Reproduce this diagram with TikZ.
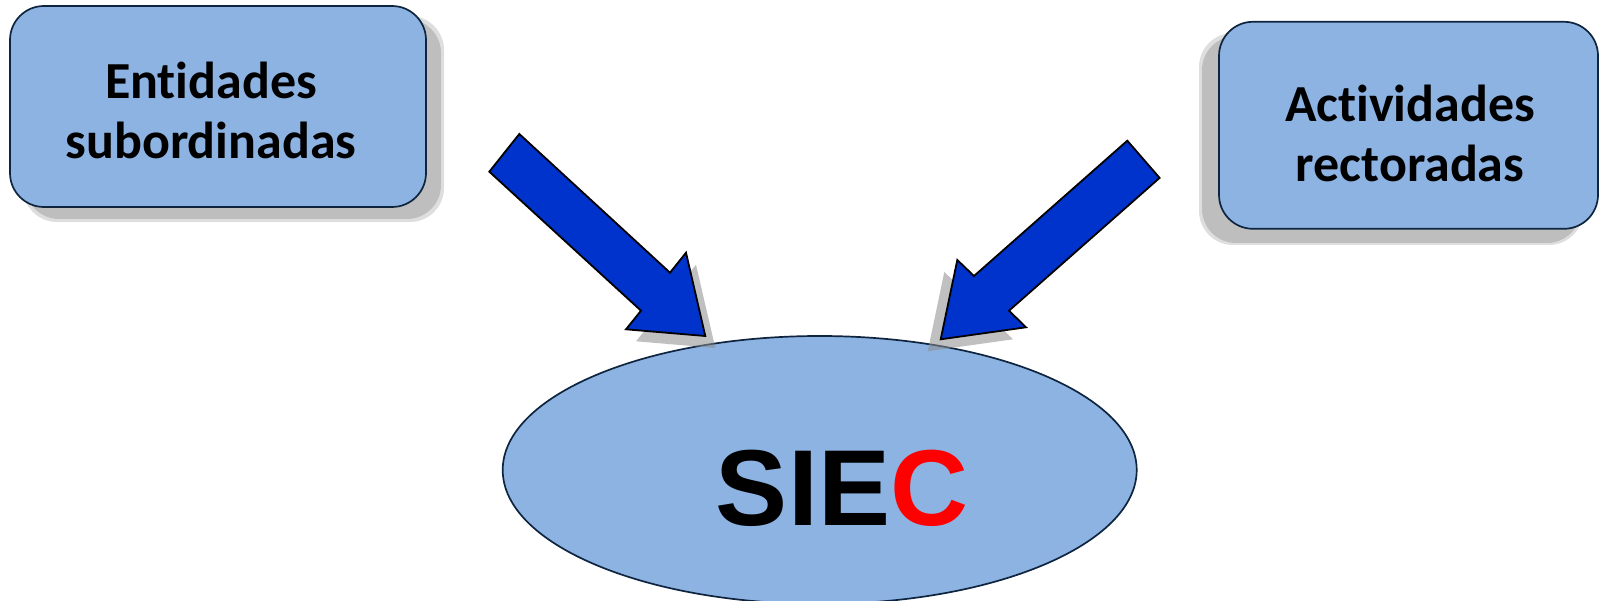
\documentclass[tikz,border=0pt]{standalone}
\usepackage{fontspec}
\usetikzlibrary{shapes.geometric,calc}
\newfontfamily\boxfont[Ligatures={NoCommon}]{Carlito}
\newfontfamily\siecfont{Liberation Sans}
\definecolor{boxfill}{RGB}{141,179,226}
\definecolor{boxline}{RGB}{15,36,62}
\definecolor{arrowblue}{RGB}{0,51,204}
\definecolor{shadowgray}{RGB}{190,190,190}
\definecolor{siecred}{RGB}{255,0,0}
\tikzset{
  box/.style={draw=boxline, line width=1.7pt, fill=boxfill, rounded corners=34pt, inner sep=0pt},
  boxtext/.style={align=center, inner sep=0pt, font=\boxfont\bfseries\fontsize{52}{60}\selectfont},
  boxshadow/.style={fill=shadowgray, rounded corners=34pt, draw=none},
  blockarrow/.style={draw=black, line width=1.8pt, fill=arrowblue, line join=miter},
  arrowshadow/.style={fill=black!45, opacity=0.55, draw=none},
  oval/.style={ellipse, draw=boxline, line width=1.7pt, fill=boxfill, inner sep=0pt},
}
\begin{document}
\begin{tikzpicture}[x=1pt, y=-1pt]
\useasboundingbox (0,0) rectangle (1600,601);
% shadows of boxes (soft edge imitation)
\fill[boxshadow, opacity=0.5] (23,16) rectangle (444,222);
\fill[boxshadow] (25,19) rectangle (441,219);
\fill[boxshadow, opacity=0.5] (1199,33) rectangle (1583,245);
\fill[boxshadow] (1202,36) rectangle (1581,243);
% boxes
\node[box, minimum width=416pt, minimum height=201pt] (ent) at (218,106.5) {};
\node[boxtext] (enttext) at (211,110) {Entidades\\subordinadas};
\node[box, minimum width=379pt, minimum height=207pt] (act) at (1408.5,125.3) {};
\node[boxtext] (acttext) at (1410,133) {Actividades\\rectoradas};
% ellipse
\node[oval, minimum width=634pt, minimum height=268pt] (siec) at (819.7,470) {};
\node[font=\siecfont\bfseries\fontsize{108}{108}\selectfont, inner sep=0pt, anchor=base] (siectext) at (842,525) {SIE\textcolor{siecred}{C}};
% arrow coordinates
\coordinate (la1) at (519.3,134);
\coordinate (la2) at (670,272.7);
\coordinate (la3) at (686,252.7);
\coordinate (la4) at (705.3,336);
\coordinate (la5) at (626,329.3);
\coordinate (la6) at (641,310.7);
\coordinate (la7) at (489.3,171.7);
\coordinate (ra1) at (1127.3,140.7);
\coordinate (ra2) at (974,276);
\coordinate (ra3) at (957.3,260);
\coordinate (ra4) at (940.7,339.3);
\coordinate (ra5) at (1026,327.3);
\coordinate (ra6) at (1009,310.7);
\coordinate (ra7) at (1159.6,177.9);
% arrow shadows (near heads)
\fill[arrowshadow] ($(la2)+(10,12)$) -- ($(la3)+(10,12)$) -- ($(la4)+(10,12)$) -- ($(la5)+(10,12)$) -- ($(la6)+(10,12)$) -- cycle;
\fill[arrowshadow] ($(ra2)+(-13,12)$) -- ($(ra3)+(-13,12)$) -- ($(ra4)+(-13,12)$) -- ($(ra5)+(-13,12)$) -- ($(ra6)+(-13,12)$) -- cycle;
% arrows
\draw[blockarrow] (la1) -- (la2) -- (la3) -- (la4) -- (la5) -- (la6) -- (la7) -- cycle;
\draw[blockarrow] (ra1) -- (ra2) -- (ra3) -- (ra4) -- (ra5) -- (ra6) -- (ra7) -- cycle;
\end{tikzpicture}
\end{document}
